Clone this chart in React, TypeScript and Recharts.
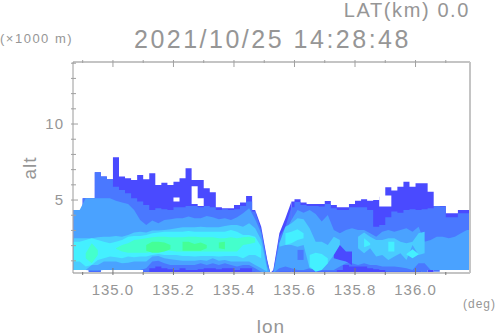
import { Area, ComposedChart, XAxis, YAxis } from "recharts";

type Band = [number, number, number];

const FONT = "'Liberation Sans', sans-serif";
const INK = "#969696";

const lon = [
  134.87, 134.89, 134.91, 134.93, 134.95, 134.97, 134.99, 135.01, 135.03, 135.05, 135.07, 135.09,
  135.11, 135.13, 135.15, 135.17, 135.19, 135.21, 135.23, 135.25, 135.27, 135.29, 135.31, 135.33,
  135.35, 135.37, 135.39, 135.41, 135.43, 135.45, 135.47, 135.49, 135.51, 135.52,
  135.53, 135.55, 135.57, 135.59, 135.61, 135.63, 135.65, 135.67, 135.69, 135.71, 135.73, 135.75,
  135.77, 135.79, 135.81, 135.83, 135.85, 135.87, 135.89, 135.91, 135.93, 135.95, 135.97, 135.99,
  136.01, 136.03, 136.05, 136.07, 136.09, 136.11, 136.13, 136.15, 136.17, 136.18,
];

// contour level tops and bottoms in km, weakest echo first
const level1Hi = [
  4.35, 4.35, 5.11, 5.11, 6.82, 6.54, 6.36, 7.81, 6.54, 6.43, 6.32, 6.65, 6.36, 6.76, 5.99, 6.14, 5.99,
  6.21, 6.43, 7.09, 6.32, 6.32, 5.77, 5.51, 4.52, 4.46, 4.46, 4.68, 4.83, 5.27, 4.35, null, null, null,
  null, null, null, 4.9, 5.05, 4.83, 4.74, 4.74, 4.74, 4.94, 4.68, 4.52, 4.52, 4.74, 4.96, 5.05, 4.96,
  5.0, 5.22, 5.84, 5.62, 5.88, 6.21, 5.88, 6.1, 6.1, 5.55, 4.61, 4.61, 4.13, 4.13, 4.35, 4.35, 4.35,
];
const level1Lo = [
  0.4, 0.4, 0.4, 0.2, 0.2, 0.4, 0.4, 0.4, 0.4, 0.4, 0.4, 0.4, 0.2, 0.2, 0.2, 0.2, 0.2,
  0.2, 0.2, 0.2, 0.2, 0.2, 0.2, 0.2, 0.2, 0.2, 0.2, 0.2, 0.2, 0.2, 0.2, null, null, null,
  null, null, null, 0.2, 0.2, 0.2, 0.2, 0.2, 0.2, 0.2, 0.2, 0.2, 0.2, 0.2, 0.2, 0.2, 0.2,
  0.2, 0.2, 0.2, 0.2, 0.2, 0.2, 0.2, 0.2, 0.4, 0.2, 0.4, 0.4, 0.4, 0.4, 0.4, 0.4, 0.4,
];
const level1Flank: Band[] = [
  [135.47, 0.2, 4.35], [135.49, 0.2, 3.25], [135.51, 0.2, 1.06], [135.52, 0.2, 0.2],
  [135.53, 0.2, 0.4], [135.55, 0.2, 2.81], [135.57, 0.2, 3.8], [135.59, 0.2, 4.9],
];
const level2Hi = [
  4.35, 4.35, 5.11, 5.11, 6.82, 6.54, 6.36, 5.88, 5.66, 5.44, 5.11, 4.9, 4.68, 4.35, 4.46, 4.39, 4.35,
  4.52, 4.52, 4.61, 4.61, 4.52, 4.61, 4.52, 4.35, 4.39, 4.35, 4.39, 4.61, 4.9, 4.24, null, null, null,
  null, null, null, 4.52, 4.87, 4.68, 4.61, 4.61, 4.57, 4.74, 4.46, 4.35, 4.35, 4.52, 4.52, 4.52, 4.35,
  3.25, 3.36, 3.86, 4.24, 4.17, 4.35, 4.39, 4.35, 4.39, 4.46, 4.61, 4.57, 3.86, 3.86, 4.13, 4.13, 4.13,
];
const level2Lo = [
  0.4, 0.4, 0.4, 0.29, 0.29, 0.4, 0.4, 0.4, 0.4, 0.4, 0.4, 0.4, 0.29, 0.51, 0.62, 0.51, 0.44,
  0.4, 0.51, 0.4, 0.4, 0.44, 0.51, 0.51, 0.44, 0.51, 0.51, 0.4, 0.51, 0.51, 0.29, null, null, null,
  null, null, null, 0.29, 0.29, 0.29, 0.29, 0.29, 0.29, 0.29, 0.29, 0.4, 0.73, 0.62, 0.62, 0.62, 0.51,
  0.44, 0.4, 0.29, 0.29, 0.29, 0.29, 0.29, 0.29, 0.2, 0.4, 0.29, 0.4, 0.4, 0.4, 0.4, 0.4, 0.4,
];
const level2Flank: Band[] = [
  [135.47, 0.29, 4.24], [135.49, 0.22, 3.03], [135.51, 0.2, 0.95], [135.52, 0.2, 0.2],
  [135.53, 0.2, 0.29], [135.55, 0.29, 2.59], [135.57, 0.29, 3.25], [135.59, 0.29, 4.52],
];
const level3Hi = [
  4.35, 4.35, 5.11, 5.11, 5.11, 5.11, 5.11, 4.96, 4.83, 4.74, 4.35, 3.69, 3.36, 3.65, 3.47, 3.69, 3.73,
  3.8, 3.8, 3.91, 3.8, 3.8, 3.95, 3.86, 3.73, 3.8, 3.69, 3.86, 4.13, 4.46, 3.73, 2.81, 0.62, 0.2,
  0.2, 2.15, 2.92, 3.69, 4.35, 4.17, 4.35, 4.08, 3.58, 4.02, 3.03, 2.81, 3.03, 3.14, 3.03, 3.03, 2.81,
  2.59, 2.92, 3.03, 2.92, 3.03, 3.14, 2.92, 3.25, 2.26, 2.37, 2.59, 2.59, 2.48, 2.59, 2.81, 3.03, 3.03,
];
const level3Lo = [
  0.4, 0.4, 0.4, 0.36, 0.36, 0.4, 0.4, 0.4, 0.4, 0.4, 0.4, 0.4, 0.51, 0.95, 1.01, 0.84, 0.73,
  0.73, 0.73, 0.73, 0.73, 0.84, 0.73, 0.84, 0.73, 0.84, 0.73, 0.62, 0.73, 0.73, 0.51, 0.29, 0.2, 0.2,
  0.2, 0.51, 0.62, 0.51, 0.4, 0.4, 0.51, 0.51, 0.4, 0.4, 0.4, 0.62, 0.84, 0.84, 0.73, 0.84, 0.73,
  0.73, 0.62, 0.62, 0.62, 0.58, 0.51, 0.4, 0.84, 0.84, 0.4, 0.4, 0.4, 0.4, 0.4, 0.4, 0.4, 0.4,
];
const level4Hi = [
  2.48, 2.48, 2.48, 2.48, 2.55, 2.59, 2.59, 2.64, 2.59, 2.7, 2.86, 2.92, 2.86, 2.99, 2.99, 3.03, 3.07,
  3.14, 3.21, 3.21, 3.21, 3.25, 3.21, 3.21, 3.21, 3.29, 3.36, 3.36, 3.25, 3.47, 3.14, 2.37, 0.4, null,
  null, 2.15, 3.25, 3.47, 3.8, 3.73, 3.14, 2.26, 2.26, 2.04, 2.59, 2.37, null, null, 2.59, 2.86, 2.59,
  2.37, 2.37, 2.48, 2.48, 2.26, 2.15, 2.26, 2.81, 2.92, null, null, null, null, null, null, null, null,
];
const level4Lo = [
  0.4, 0.4, 0.4, 0.73, 0.73, 0.95, 0.95, 0.95, 0.84, 0.88, 0.95, 0.95, 0.95, 1.28, 1.32, 1.17, 1.1,
  1.06, 1.01, 1.01, 1.01, 1.06, 1.01, 1.17, 1.01, 1.06, 0.95, 0.95, 0.95, 0.95, 0.73, 0.51, 0.29, null,
  null, 1.93, 2.04, 2.04, 1.93, 2.04, 0.51, 0.4, 0.44, 0.84, 1.39, 1.93, null, null, 1.82, 1.5, 1.82,
  1.28, 1.39, 1.06, 1.28, 1.5, 1.06, 2.04, 1.39, 1.5, null, null, null, null, null, null, null, null,
];

const level5Main: Band[] = [
  [134.87, 0.95, 2.26], [134.89, 0.95, 2.26], [134.91, 0.62, 2.37], [134.93, 0.73, 2.48], [134.95, 1.06, 2.37],
  [134.97, 1.17, 2.26], [134.99, 1.28, 2.15], [135.01, 1.23, 2.26], [135.03, 1.17, 2.37], [135.05, 1.28, 2.59],
  [135.07, 1.23, 2.64], [135.09, 1.28, 2.64], [135.11, 1.28, 2.7], [135.13, 1.39, 2.81], [135.15, 1.45, 2.86],
  [135.17, 1.39, 2.92], [135.19, 1.39, 2.92], [135.21, 1.39, 2.92], [135.23, 1.32, 2.92], [135.25, 1.32, 2.97],
  [135.27, 1.28, 2.92], [135.29, 1.32, 2.92], [135.31, 1.32, 2.92], [135.33, 1.32, 2.92], [135.35, 1.28, 2.92],
  [135.37, 1.32, 2.92], [135.39, 1.32, 3.03], [135.41, 1.32, 2.92], [135.43, 1.17, 2.7], [135.45, 1.39, 2.7],
  [135.47, 1.39, 2.59], [135.49, 1.17, 1.93],
  [135.57, 2.04, 2.81], [135.59, 2.15, 2.92], [135.61, 2.37, 3.07], [135.63, 2.48, 2.81],
  [135.83, 1.89, 2.48], [135.85, 2.04, 2.15],
  [135.91, 1.61, 2.26], [135.93, 1.61, 2.26],
];
const level5Patches: Band[] = [
  [135.65, 0.62, 1.39], [135.67, 0.29, 1.54], [135.69, 0.4, 1.45], [135.71, 0.84, 1.17],
  [135.97, 1.41, 1.45], [135.99, 1.17, 1.76], [136.01, 1.41, 1.45],
];
const level6: Band[] = [
  [134.91, 1.17, 1.5], [134.93, 0.84, 2.15], [134.95, 1.39, 1.72],
  [135.01, 1.8, 1.82], [135.03, 1.61, 2.04], [135.05, 1.54, 2.15], [135.07, 1.54, 2.37], [135.09, 1.54, 2.42],
  [135.11, 1.54, 2.48], [135.13, 1.61, 2.55], [135.15, 1.67, 2.59], [135.17, 1.67, 2.59], [135.19, 1.67, 2.55],
  [135.21, 1.61, 2.55], [135.23, 1.61, 2.55], [135.25, 1.61, 2.59], [135.27, 1.61, 2.59], [135.29, 1.61, 2.55],
  [135.31, 1.61, 2.55], [135.33, 1.61, 2.55], [135.35, 1.61, 2.48], [135.37, 1.61, 2.48], [135.39, 1.61, 2.55],
  [135.41, 1.61, 2.48], [135.43, 2.04, 2.55], [135.45, 2.11, 2.59], [135.47, 2.2, 2.48],
];
const level7: Band[] = [
  [135.11, 1.67, 2.04], [135.13, 1.54, 2.26], [135.15, 1.54, 2.26], [135.17, 1.61, 2.2], [135.19, 1.76, 2.04],
  [135.23, 1.67, 2.26], [135.25, 1.67, 2.26], [135.27, 1.67, 2.11], [135.29, 1.67, 2.2], [135.31, 1.82, 2.04],
  [135.35, 1.82, 2.2], [135.37, 1.76, 2.26],
];
const darkBlob: Band[] = [[135.73, 1.17, 1.39], [135.75, 1.06, 2.04], [135.77, 0.95, 1.61], [135.79, 0.73, 1.61]];
const midBlob: Band[] = [[135.61, 1.06, 1.72], [135.63, 1.06, 1.72]];
// echo-free gaps inside the top contour
const gaps: Band[] = [
  [135.19, 5.0, 5.0], [135.21, 4.9, 5.16], [135.23, 5.0, 5.0],
  [135.25, 5.0, 5.0], [135.27, 4.74, 5.9], [135.29, 4.61, 5.11], [135.31, 5.0, 5.0],
  [135.87, 5.0, 5.0], [135.89, 4.57, 5.3], [135.91, 4.57, 5.3], [135.93, 5.0, 5.0],
];

const xTicks = [134.9, 135.0, 135.1, 135.2, 135.3, 135.4, 135.5, 135.6, 135.7, 135.8, 135.9, 136.0, 136.1];
const xLabels = ["135.0", "135.2", "135.4", "135.6", "135.8", "136.0"];
const yTicks = [1, 2, 3, 4, 5, 6, 7, 8, 9, 10, 11, 12, 13, 14];
const yLabels = [5, 10];

const pick = (rows: Band[], x: number) => {
  const row = rows.find((r) => r[0] === x);
  return row ? [row[1], row[2]] : [null, null];
};

const table = lon.map((x, i) => ({
  lon: x,
  level1: [level1Lo[i], level1Hi[i]],
  level1Flank: pick(level1Flank, x),
  level2: [level2Lo[i], level2Hi[i]],
  level2Flank: pick(level2Flank, x),
  level3: [level3Lo[i], level3Hi[i]],
  level4: [level4Lo[i], level4Hi[i]],
  level5Main: pick(level5Main, x),
  level5Patches: pick(level5Patches, x),
  level6: pick(level6, x),
  level7: pick(level7, x),
  darkBlob: pick(darkBlob, x),
  midBlob: pick(midBlob, x),
  gaps: pick(gaps, x),
}));

const layers = [
  { key: "level1", fill: "#4a4aff", type: "step" },
  { key: "level1Flank", fill: "#4a4aff", type: "linear" },
  { key: "level2", fill: "#4a78ff", type: "step" },
  { key: "level2Flank", fill: "#4a78ff", type: "linear" },
  { key: "level3", fill: "#4aa2ff", type: "linear" },
  { key: "level4", fill: "#4accff", type: "linear" },
  { key: "midBlob", fill: "#4a78ff", type: "stepAfter" },
  { key: "darkBlob", fill: "#4a4aff", type: "linear" },
  { key: "level5Main", fill: "#44f0ff", type: "linear" },
  { key: "level5Patches", fill: "#44f0ff", type: "linear" },
  { key: "level6", fill: "#44ffcc", type: "linear" },
  { key: "level7", fill: "#44ff96", type: "linear" },
  { key: "gaps", fill: "#ffffff", type: "step" },
];

const XTick = ({ x, y, payload, top }: any) => {
  const label = payload.value.toFixed(1);
  const major = xLabels.includes(label);
  const len = major ? 7 : 3;
  return (
    <g>
      <line x1={x} x2={x} y1={y} y2={top ? y + len : y - len} stroke={top ? "#a0a0a0" : "#777"} />
      {!top && major && (
        <text x={x} y={y + 20} textAnchor="middle" fontFamily={FONT} fontSize={15} letterSpacing={1} fill={INK}>
          {label}
        </text>
      )}
    </g>
  );
};

const YTick = ({ x, y, payload, right }: any) => {
  const major = yLabels.includes(payload.value);
  const len = major ? 7 : 5;
  return (
    <g>
      <line x1={x} x2={right ? x - len : x + len} y1={y} y2={y} stroke="#a0a0a0" />
      {!right && major && (
        <text x={x - 7} y={y + 5} textAnchor="end" fontFamily={FONT} fontSize={15} letterSpacing={1} fill={INK}>
          {payload.value}
        </text>
      )}
    </g>
  );
};

const X_DOMAIN = [134.868, 136.178];
const Y_DOMAIN = [0.2, 14.08];

export default function App() {
  return (
    <div style={{ position: "absolute", left: 0, top: 0, width: 498, height: 336, background: "#fff" }}>
      <ComposedChart
        width={498}
        height={336}
        data={table}
        margin={{ top: 61, right: 27, bottom: 62, left: 72 }}
      >
        <XAxis
          dataKey="lon"
          type="number"
          domain={X_DOMAIN}
          ticks={xTicks}
          interval={0}
          height={1}
          tickSize={0}
          tickLine={false}
          axisLine={{ stroke: "#c4c4c4", strokeWidth: 2 }}
          tick={<XTick />}
        />
        <XAxis
          xAxisId="top"
          orientation="top"
          type="number"
          dataKey="lon"
          domain={X_DOMAIN}
          ticks={xTicks}
          interval={0}
          height={1}
          tickSize={0}
          tickLine={false}
          axisLine={{ stroke: "#c4c4c4", strokeWidth: 2 }}
          tick={<XTick top />}
        />
        <YAxis
          type="number"
          domain={Y_DOMAIN}
          ticks={yTicks}
          interval={0}
          width={1}
          tickSize={0}
          tickLine={false}
          axisLine={{ stroke: "#9a9a9a", strokeWidth: 1 }}
          tick={<YTick />}
        />
        <YAxis
          yAxisId="right"
          orientation="right"
          type="number"
          domain={Y_DOMAIN}
          ticks={yTicks}
          interval={0}
          width={1}
          tickSize={0}
          tickLine={false}
          axisLine={{ stroke: "#c4c4c4", strokeWidth: 2 }}
          tick={<YTick right />}
        />
        {layers.map((l) => (
          <Area
            key={l.key}
            dataKey={l.key}
            type={l.type as any}
            stroke="none"
            fill={l.fill}
            fillOpacity={1}
            dot={false}
            activeDot={false}
            isAnimationActive={false}
          />
        ))}
        <text x={470} y={17} textAnchor="end" fontFamily={FONT} fontSize={20} letterSpacing={1.6} fill={INK}>
          LAT(km) 0.0
        </text>
        <text x={134} y={48} fontFamily={FONT} fontSize={25} letterSpacing={2.5} fill={INK}>
          2021/10/25 14:28:48
        </text>
        <text x={0} y={43} fontFamily={FONT} fontSize={13} letterSpacing={1.5} fill={INK}>
          (×1000 m)
        </text>
        <text x={463} y={308} fontFamily={FONT} fontSize={12} letterSpacing={1} fill={INK}>
          (deg)
        </text>
        <text x={271} y={333} textAnchor="middle" fontFamily={FONT} fontSize={19} letterSpacing={1} fill={INK}>
          lon
        </text>
        <text
          transform="translate(36 168) rotate(-90)"
          textAnchor="middle"
          fontFamily={FONT}
          fontSize={19}
          letterSpacing={1}
          fill={INK}
        >
          alt
        </text>
      </ComposedChart>
    </div>
  );
}
